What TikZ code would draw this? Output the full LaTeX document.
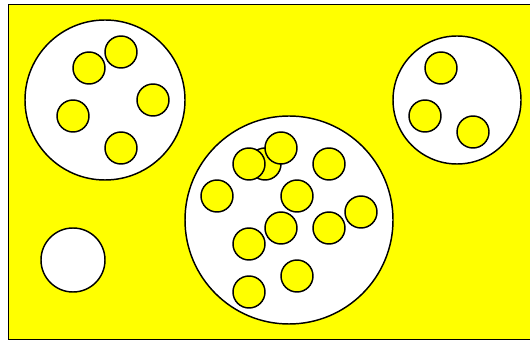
\documentclass[tikz,border=0pt]{standalone}
\usepackage{tikz}
\usetikzlibrary{positioning}
\definecolor{setyellow}{HTML}{FFFF00}

\begin{document}
\begin{tikzpicture}[
  x=0.75pt, y=-0.75pt,
  line width=1.1pt,
  region/.style={draw=black, fill=white},
  blob/.style={draw=black, fill=setyellow},
]
  \useasboundingbox (0,0) rectangle (530,341);
  \clip (0,0) rectangle (530,341);

  % Universe
  \draw[fill=setyellow, draw=black] (8.5,4.5) rectangle (540,339.5);

  % Sets
  \draw[region] (105,100) circle (80);
  \draw[region] (289,220) circle (104);
  \draw[region] (457,100) circle (64);
  \draw[region] (73,260) circle (32);

  % Elements of the left set
  \foreach \x/\y in {89/68, 121/52, 153/100, 73/116, 121/148}
    \draw[blob] (\x,\y) circle (16);

  % Elements of the middle set
  \foreach \x/\y in {265/164, 249/164, 281/148, 329/164, 217/196, 297/196,
                     361/212, 281/228, 329/228, 249/244, 297/276, 249/292}
    \draw[blob] (\x,\y) circle (16);

  % Elements of the right set
  \foreach \x/\y in {441/68, 425/116, 473/132}
    \draw[blob] (\x,\y) circle (16);
\end{tikzpicture}
\end{document}
